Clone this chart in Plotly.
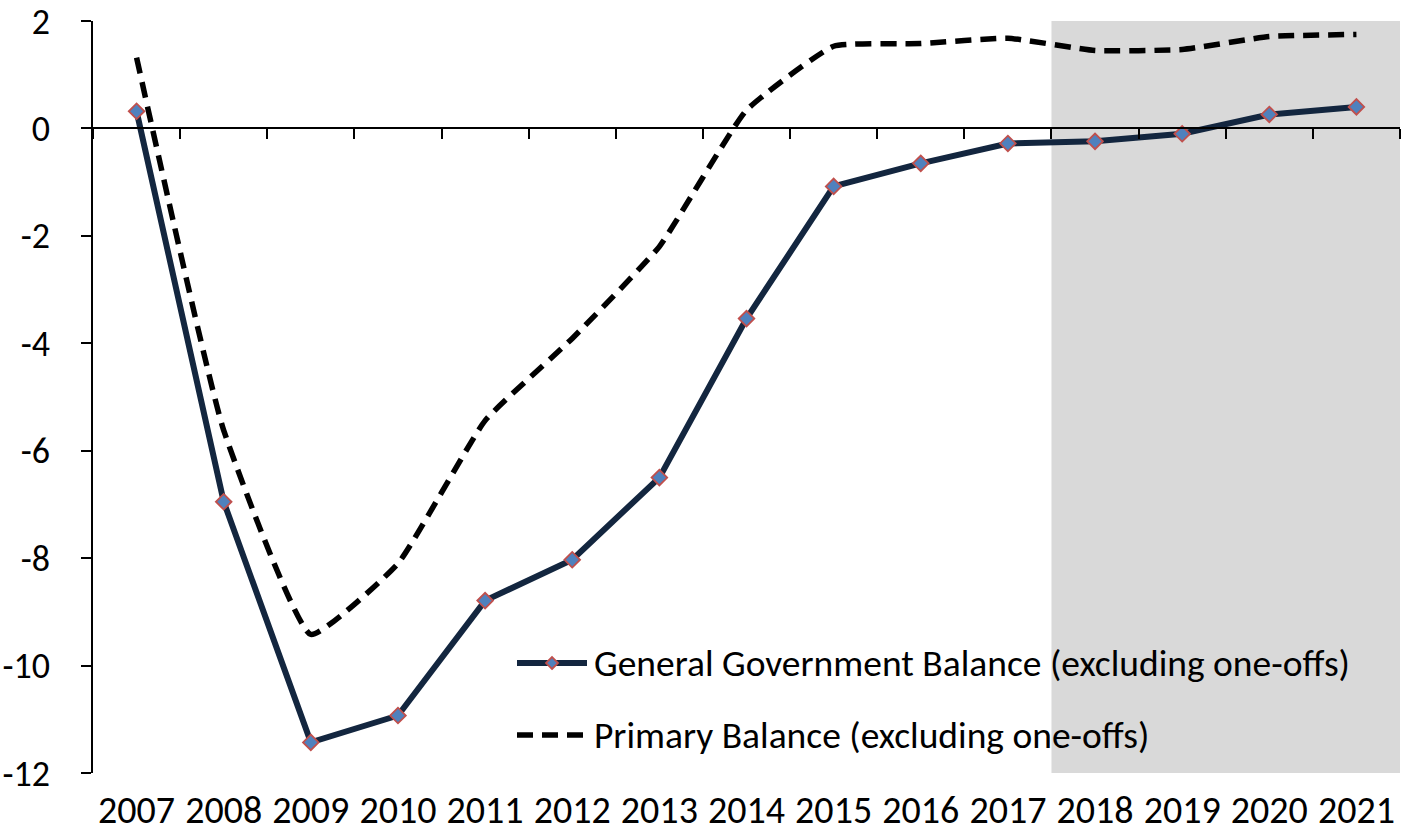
import plotly.graph_objects as go

years = [str(y) for y in range(2007, 2022)]
general_balance = [0.32, -6.95, -11.43, -10.93, -8.79, -8.03, -6.50, -3.54,
                   -1.08, -0.65, -0.28, -0.24, -0.10, 0.26, 0.40]
primary_balance = [1.32, -5.62, -9.42, -8.10, -5.44, -3.91, -2.20, 0.34,
                   1.53, 1.58, 1.68, 1.45, 1.47, 1.71, 1.75]
y_ticks = [2, 0, -2, -4, -6, -8, -10, -12]
forecast_start = 10.5  # boundary between 2017 and 2018

FONT = "Carlito, Lato, sans-serif"
NAVY = "#13263F"
DASH = "16px,9px"
GGB_NAME = "General Government Balance (excluding one-offs)"
PB_NAME = "Primary Balance (excluding one-offs)"

fig = go.Figure()

fig.add_trace(go.Scatter(
    x=years, y=primary_balance, name=PB_NAME, mode="lines",
    line=dict(color="black", width=5.5, dash=DASH, shape="spline", smoothing=0.4),
    showlegend=False,
))
fig.add_trace(go.Scatter(
    x=years, y=general_balance, name=GGB_NAME, mode="lines+markers",
    line=dict(color=NAVY, width=6),
    marker=dict(symbol="diamond", size=12, color="#4F81BD",
                line=dict(color="#C0504D", width=1.8)),
    showlegend=False,
))

# shaded projection period
fig.add_shape(type="rect", xref="x", yref="paper", x0=forecast_start, x1=14.5,
              y0=0, y1=1, fillcolor="#D9D9D9", line_width=0, layer="below")

# legend drawn in the plot area
lx0, lx1, ltext = (517 - 93) / 1307, (587 - 93) / 1307, (592 - 93) / 1307
ly1, ly2 = (773 - 663) / 752, (773 - 735) / 752
fig.add_shape(type="line", xref="paper", yref="paper", x0=lx0, x1=lx1, y0=ly1, y1=ly1,
              line=dict(color=NAVY, width=6))
fig.add_shape(type="path", xref="paper", yref="paper", xsizemode="pixel", ysizemode="pixel",
              xanchor=(lx0 + lx1) / 2, yanchor=ly1, path="M0,-6 L6,0 L0,6 L-6,0 Z",
              fillcolor="#4F81BD", line=dict(color="#C0504D", width=1.8))
fig.add_shape(type="line", xref="paper", yref="paper", x0=lx0, x1=(583 - 93) / 1307,
              y0=ly2, y1=ly2, line=dict(color="black", width=5.5, dash=DASH))
for name, yy in [(GGB_NAME, ly1), (PB_NAME, ly2)]:
    fig.add_annotation(xref="paper", yref="paper", x=ltext, y=yy, text=name,
                       showarrow=False, xanchor="left", yanchor="middle",
                       font=dict(family=FONT, size=37.5, color="black"))

fig.update_layout(
    width=1402, height=836,
    margin=dict(l=93, r=2, t=21, b=63, autoexpand=False),
    plot_bgcolor="white", paper_bgcolor="white",
    font=dict(family=FONT, size=37, color="black"),
    # category axis drawn along the zero line
    xaxis=dict(
        type="category", categoryorder="array", categoryarray=years,
        range=[-0.5, 14.5], anchor="free", position=12 / 14,
        showline=True, linecolor="black", linewidth=1.5,
        ticks="outside", tickson="boundaries", ticklen=10, tickwidth=1.5, tickcolor="black",
        showticklabels=False, showgrid=False, zeroline=False, automargin=False,
    ),
    # year labels along the bottom
    xaxis2=dict(
        type="category", categoryorder="array", categoryarray=years,
        matches="x", overlaying="x", anchor="y", side="bottom",
        showline=False, ticks="", showgrid=False, zeroline=False, automargin=False,
        ticklabelstandoff=11, ticklabeloverflow="allow",
        tickfont=dict(family=FONT, size=38),
    ),
    yaxis=dict(
        range=[-12, 2], tickvals=y_ticks, ticktext=[str(v) for v in y_ticks],
        showline=True, linecolor="black", linewidth=1.5,
        ticks="outside", ticklen=10, tickwidth=1.5, tickcolor="black",
        ticklabelstandoff=24, ticklabeloverflow="allow",
        showgrid=False, zeroline=False, automargin=False,
        tickfont=dict(family=FONT, size=36),
    ),
)

# invisible trace so the year axis is drawn
fig.add_trace(go.Scatter(x=years, y=[None] * len(years), xaxis="x2", yaxis="y",
                         showlegend=False, hoverinfo="skip"))

fig.write_html("out.html")
